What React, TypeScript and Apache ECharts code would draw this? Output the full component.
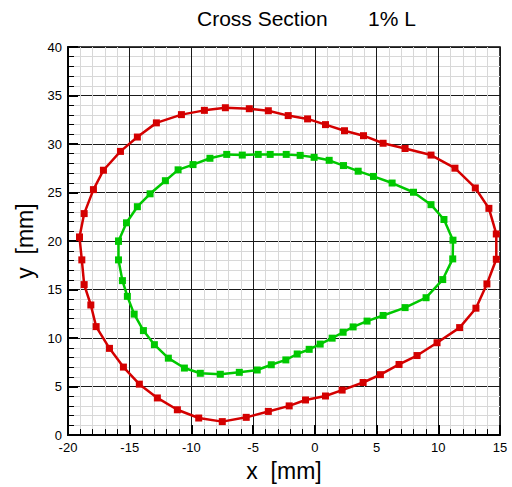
import React, { useEffect, useRef } from "react";
import * as echarts from "echarts";

// Outer contour of the section (mm)
const redX = [
  -19.07, -18.69, -17.94, -17.13, -15.75, -14.38, -12.84, -10.81, -8.95, -7.25,
  -5.31, -3.77, -2.16, -0.59, 0.86, 2.4, 3.94, 5.53, 7.31, 9.41,
  11.35, 13.0, 14.1, 14.7, 14.7, 13.94, 13.05, 11.73, 9.9, 8.28,
  6.82, 5.31, 3.91, 2.21, 0.86, -0.76, -2.08, -3.77, -5.56, -7.5,
  -9.41, -11.14, -12.76, -14.22, -15.51, -16.64, -17.72, -18.15, -18.69, -18.88,
];
const redY = [
  20.4, 22.83, 25.3, 27.3, 29.24, 30.72, 32.18, 33.03, 33.47, 33.74,
  33.64, 33.43, 32.93, 32.59, 32.0, 31.37, 30.86, 30.08, 29.54, 28.86,
  27.51, 25.47, 23.37, 20.73, 18.12, 15.58, 13.08, 11.08, 9.52, 8.2,
  7.28, 6.23, 5.42, 4.64, 4.03, 3.62, 3.01, 2.44, 1.83, 1.39,
  1.76, 2.61, 3.83, 5.25, 7.01, 8.94, 11.18, 13.41, 15.51, 18.06,
];

// Inner contour of the section (mm)
const greenX = [
  -15.91, -15.26, -14.38, -13.35, -12.11, -11.08, -9.87, -8.5, -7.14, -5.88,
  -4.59, -3.62, -2.32, -1.19, -0.06, 1.16, 2.32, 3.51, 4.75, 6.26,
  7.99, 9.41, 10.46, 11.19, 11.17, 10.36, 9.01, 7.31, 5.53, 4.23,
  3.1, 2.29, 1.4, 0.43, -0.46, -1.43, -2.35, -3.53, -4.67, -6.12,
  -7.66, -9.28, -10.57, -11.87, -13.0, -13.89, -14.64, -15.19, -15.59, -15.91,
];
const greenY = [
  19.99, 21.88, 23.54, 24.87, 26.22, 27.34, 27.88, 28.53, 28.93, 28.86,
  28.93, 28.93, 28.93, 28.83, 28.63, 28.32, 27.78, 27.2, 26.66, 25.98,
  25.03, 23.75, 22.22, 20.09, 18.16, 16.03, 14.16, 13.14, 12.33, 11.75,
  11.15, 10.6, 9.99, 9.38, 8.84, 8.36, 7.75, 7.25, 6.71, 6.47,
  6.27, 6.37, 6.91, 7.93, 9.32, 10.77, 12.47, 14.3, 15.92, 18.06,
];

const xRange = [-20, 15];
const yRange = [0, 40];
const tickStep = 5;

const titleText = "Cross Section";
const subtitleText = "1% L";
const xName = "x  [mm]";
const yName = "y  [mm]";

const FONT = "'Liberation Sans', Arial, Helvetica, sans-serif";

// Closed loop: repeat the first point at the end
function loop(xs: number[], ys: number[]): number[][] {
  const pts = xs.map((x, i) => [x, ys[i]]);
  pts.push([xs[0], ys[0]]);
  return pts;
}

function axisCommon(min: number, max: number) {
  return {
    type: "value" as const,
    min,
    max,
    interval: tickStep,
    minorTick: { show: true, splitNumber: 5, length: 6, lineStyle: { color: "#000", width: 1 } },
    minorSplitLine: { show: true, lineStyle: { color: "#d8d8d8", width: 1 } },
    splitLine: { show: true, lineStyle: { color: "#1a1a1a", width: 1 } },
    axisLine: { show: true, onZero: false, lineStyle: { color: "#000", width: 2 } },
    axisTick: { show: true, inside: true, length: 10, lineStyle: { color: "#000", width: 2 } },
    axisLabel: { color: "#000", fontSize: 13, fontFamily: FONT, margin: 6 },
    nameLocation: "middle" as const,
    nameTextStyle: { color: "#000", fontSize: 23, fontFamily: FONT },
  };
}

export default function App() {
  const ref = useRef<HTMLDivElement>(null);

  useEffect(() => {
    if (!ref.current) return;
    const chart = echarts.init(ref.current, undefined, { renderer: "svg" });
    chart.setOption({
      animation: false,
      backgroundColor: "#fff",
      title: [
        {
          text: titleText,
          left: 192,
          top: 3,
          textStyle: { color: "#000", fontSize: 21, fontWeight: "normal", fontFamily: FONT },
        },
        {
          text: subtitleText,
          left: 363,
          top: 3,
          textStyle: { color: "#000", fontSize: 21, fontWeight: "normal", fontFamily: FONT },
        },
      ],
      grid: {
        left: 68,
        right: 12,
        top: 47,
        bottom: 47,
        show: true,
        borderColor: "#000",
        borderWidth: 1.5,
      },
      xAxis: { ...axisCommon(xRange[0], xRange[1]), name: xName, nameGap: 19 },
      yAxis: { ...axisCommon(yRange[0], yRange[1]), name: yName, nameGap: 32 },
      series: [
        {
          type: "line",
          data: loop(redX, redY),
          symbol: "rect",
          symbolSize: 7,
          lineStyle: { color: "#d40000", width: 2.5 },
          itemStyle: { color: "#d40000" },
        },
        {
          type: "line",
          data: loop(greenX, greenY),
          symbol: "rect",
          symbolSize: 7,
          lineStyle: { color: "#00c800", width: 2.5 },
          itemStyle: { color: "#00c800" },
        },
      ],
    });
    return () => chart.dispose();
  }, []);

  return (
    <div
      ref={ref}
      style={{ position: "fixed", left: 0, top: 0, width: 512, height: 487 }}
    />
  );
}
